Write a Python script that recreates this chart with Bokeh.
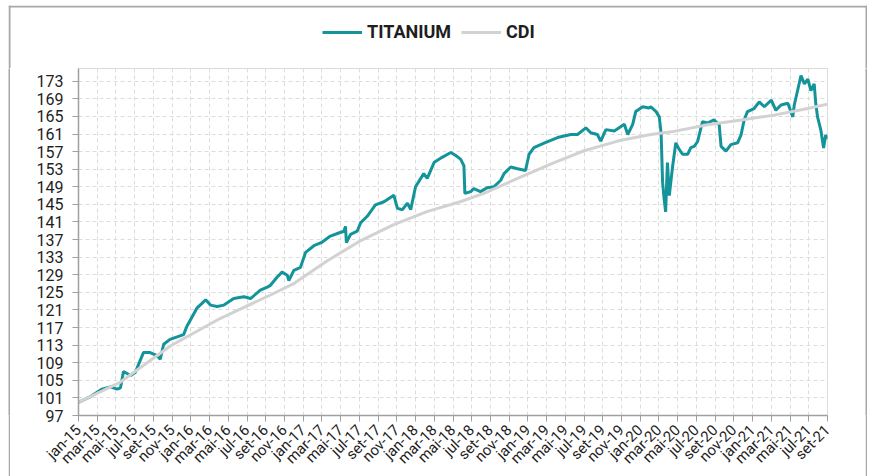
import pandas as pd
from bokeh.plotting import figure
from bokeh.layouts import column, row
from bokeh.models import (Range1d, FixedTicker, Legend, LegendItem, ColumnDataSource, Span)
from bokeh.embed import file_html
from bokeh.resources import INLINE

titanium_dates = [
    "2015-01-01", "2015-02-09", "2015-03-17", "2015-04-13", "2015-05-05", "2015-05-16", "2015-05-26",
    "2015-06-18", "2015-07-03", "2015-07-30", "2015-08-21", "2015-09-13", "2015-09-23", "2015-10-04",
    "2015-10-25", "2015-12-08", "2015-12-19", "2016-01-21", "2016-02-18", "2016-03-04", "2016-03-26",
    "2016-04-17", "2016-05-19", "2016-06-21", "2016-07-13", "2016-08-14", "2016-09-06", "2016-09-16",
    "2016-10-08", "2016-10-24", "2016-11-10", "2016-11-15", "2016-12-01", "2016-12-23", "2017-01-09",
    "2017-02-05", "2017-02-27", "2017-03-29", "2017-04-25", "2017-05-12", "2017-05-17", "2017-05-20",
    "2017-06-03", "2017-06-24", "2017-07-05", "2017-07-27", "2017-08-23", "2017-09-20", "2017-10-22",
    "2017-11-03", "2017-11-19", "2017-12-05", "2017-12-16", "2018-01-01", "2018-01-28", "2018-02-08",
    "2018-03-01", "2018-03-27", "2018-04-24", "2018-05-10", "2018-05-26", "2018-06-06", "2018-06-09",
    "2018-06-28", "2018-07-08", "2018-07-30", "2018-08-21", "2018-09-12", "2018-10-04", "2018-10-15",
    "2018-11-06", "2018-11-28", "2018-12-24", "2019-01-05", "2019-01-21", "2019-02-23", "2019-04-06",
    "2019-05-19", "2019-06-10", "2019-07-07", "2019-07-23", "2019-08-14", "2019-08-25", "2019-09-11",
    "2019-10-08", "2019-11-10", "2019-11-21", "2019-12-07", "2019-12-17", "2020-01-09", "2020-01-30",
    "2020-02-05", "2020-02-21", "2020-03-02", "2020-03-08", "2020-03-13", "2020-03-18", "2020-03-23",
    "2020-03-29", "2020-04-04", "2020-04-15", "2020-04-25", "2020-05-06", "2020-05-17", "2020-06-03",
    "2020-06-13", "2020-06-24", "2020-07-05", "2020-07-21", "2020-08-07", "2020-08-28", "2020-09-14",
    "2020-09-20", "2020-10-06", "2020-10-22", "2020-11-13", "2020-11-24", "2020-12-04", "2020-12-15",
    "2021-01-06", "2021-01-23", "2021-02-08", "2021-03-01", "2021-03-16", "2021-04-02", "2021-04-24",
    "2021-05-10", "2021-05-15", "2021-05-26", "2021-06-06", "2021-06-17", "2021-06-28", "2021-07-08",
    "2021-07-19", "2021-07-24", "2021-07-30", "2021-08-10", "2021-08-19", "2021-08-26", "2021-09-01",
]
titanium_values = [
    100.0, 101.3, 103.0, 103.5, 103.0, 103.3, 107.0,
    106.1, 106.8, 111.3, 111.3, 110.6, 109.8, 113.2,
    114.3, 115.4, 117.3, 121.4, 123.3, 122.1, 121.8,
    122.1, 123.6, 124.0, 123.6, 125.5, 126.2, 126.6,
    128.5, 129.6, 128.9, 127.7, 130.0, 130.7, 134.1,
    135.6, 136.3, 137.8, 138.5, 138.9, 140.0, 136.3,
    138.2, 138.9, 140.8, 142.3, 144.9, 145.6, 147.1,
    144.1, 143.8, 145.3, 143.8, 149.0, 152.0, 150.9,
    154.6, 155.7, 156.8, 156.1, 155.3, 153.8, 147.5,
    147.9, 148.6, 147.9, 148.8, 149.0, 150.5, 152.0,
    153.5, 153.1, 152.7, 156.4, 157.9, 159.0, 160.2,
    160.9, 160.9, 162.4, 161.3, 160.9, 159.4, 162.0,
    161.7, 163.2, 160.9, 163.2, 166.1, 167.2, 166.9,
    167.2, 166.1, 164.9, 161.2, 150.0, 146.3, 143.3,
    154.5, 147.0, 153.8, 159.0, 157.5, 156.4, 156.4,
    157.9, 158.2, 159.3, 163.8, 163.5, 164.2, 163.1,
    158.2, 157.1, 158.6, 159.0, 160.8, 164.2, 166.1,
    166.8, 168.3, 167.2, 168.7, 166.4, 167.6, 168.0,
    164.9, 167.6, 170.9, 174.3, 172.4, 173.5, 170.9,
    172.4, 168.0, 164.9, 161.9, 157.8, 160.8, 159.9,
]

cdi_dates = [
    "2015-01-01", "2015-05-16", "2015-10-26", "2016-04-06", "2016-09-16", "2016-12-01",
    "2017-03-19", "2017-07-04", "2017-10-22", "2018-02-09", "2018-05-25", "2018-08-10",
    "2018-11-28", "2019-03-16", "2019-07-01", "2019-10-19", "2020-02-04", "2020-04-19",
    "2020-08-07", "2020-11-25", "2021-03-10", "2021-06-28", "2021-09-01",
]
cdi_values = [
    100.0, 104.6, 112.8, 119.1, 124.4, 127.0,
    132.2, 136.7, 140.4, 143.4, 145.6, 147.5,
    150.9, 154.2, 157.2, 159.4, 160.9, 161.6,
    163.1, 164.2, 165.3, 166.8, 167.8,
]

month_names = ["jan", "fev", "mar", "abr", "mai", "jun", "jul", "ago", "set", "out", "nov", "dez"]
y_ticks = [97, 101, 105, 109, 113, 117, 121, 125, 129, 133, 137, 141, 145, 149, 153, 157, 161, 165, 169, 173]


def month_index(dates):
    d = pd.to_datetime(pd.Series(dates))
    return list((d.dt.year - 2015) * 12 + (d.dt.month - 1) + (d.dt.day - 1) / d.dt.days_in_month)


tick_pos = list(range(0, 81, 2))
tick_labels = {m: f"{month_names[m % 12]}-{15 + m // 12}" for m in tick_pos}

FONT = "Roboto"
TEAL = "#13939a"
GREY = "#d2d2d2"
BORDER = "#a8a8a8"
LW = 3

PAD_TOP = 5      # blank space above the outer frame
PAD_LEFT = 8     # blank space left of the outer frame
W = 859          # outer frame width
HEAD_H = 63      # legend strip height
MAIN_H = 408     # chart height
STRIP_W = 2      # side border strips


def blank(w, h, color="white"):
    b = figure(width=w, height=h, output_backend="svg", toolbar_location=None,
               x_axis_type=None, y_axis_type=None, min_border=0, outline_line_color=None,
               background_fill_color=color, border_fill_color=color)
    b.grid.visible = False
    return b


# ---- header with legend and the top part of the outer frame ----
head = figure(width=W, height=HEAD_H, output_backend="svg", toolbar_location=None,
              x_range=Range1d(0, W), y_range=Range1d(0, HEAD_H),
              x_axis_type=None, y_axis_type=None, min_border=0,
              outline_line_color=None, background_fill_color="white", border_fill_color="white")
head.grid.visible = False
key_src = ColumnDataSource(dict(x=[0], y=[-50]))
h_t = head.line("x", "y", source=key_src, line_color=TEAL, line_width=LW)
h_c = head.line("x", "y", source=key_src, line_color=GREY, line_width=LW)
head.add_layout(Span(location=HEAD_H - 1, dimension="width", line_color=BORDER, line_width=2))
head.add_layout(Span(location=1, dimension="height", line_color=BORDER, line_width=2))
head.add_layout(Span(location=W - 1, dimension="height", line_color=BORDER, line_width=2))
legend = Legend(items=[LegendItem(label="TITANIUM", renderers=[h_t]),
                       LegendItem(label="CDI", renderers=[h_c])],
                orientation="horizontal", location=(314, 26),
                glyph_width=40, glyph_height=20, label_height=20,
                label_standoff=5, spacing=10, padding=0, margin=0,
                border_line_color=None, background_fill_alpha=0,
                label_text_font=FONT, label_text_font_style="bold",
                label_text_font_size="18px", label_text_color="#1e1e1e")
head.add_layout(legend, "center")

# ---- main chart ----
p = figure(width=W - 2 * STRIP_W, height=MAIN_H, output_backend="svg", toolbar_location=None,
           x_range=Range1d(0, 80), y_range=Range1d(97, 175.9),
           min_border_left=68, min_border_right=38, min_border_top=0, min_border_bottom=55,
           background_fill_color="white", border_fill_color="white")

src_t = ColumnDataSource(dict(x=month_index(titanium_dates), y=titanium_values))
src_c = ColumnDataSource(dict(x=month_index(cdi_dates), y=cdi_values))
p.line("x", "y", source=src_t, line_color=TEAL, line_width=LW)
p.line("x", "y", source=src_c, line_color=GREY, line_width=LW)

p.outline_line_color = "#dcdcdc"

for ax in (p.xaxis[0], p.yaxis[0]):
    ax.axis_line_color = "#a0a0a0"
    ax.axis_line_width = 1.5
    ax.major_tick_line_color = "#a0a0a0"
    ax.major_tick_out = 6
    ax.major_tick_in = 0
    ax.minor_tick_line_color = None
    ax.major_label_text_font = FONT
    ax.major_label_text_color = "#1e1e1e"

p.yaxis.ticker = FixedTicker(ticks=y_ticks)
p.yaxis.major_label_text_font_size = "16px"
p.yaxis.major_label_standoff = 9

p.xaxis.ticker = FixedTicker(ticks=tick_pos)
p.xaxis.major_label_overrides = tick_labels
p.xaxis.major_label_orientation = 0.785398
p.xaxis.major_label_text_font_size = "15px"
p.xaxis.major_label_standoff = 6

p.xgrid.grid_line_color = "#dcdcdc"
p.ygrid.grid_line_color = "#dcdcdc"
p.xgrid.grid_line_dash = "4 3"
p.ygrid.grid_line_dash = "4 3"
p.xgrid.ticker = FixedTicker(ticks=tick_pos)
p.ygrid.ticker = FixedTicker(ticks=y_ticks)

framed = column(head, row(blank(STRIP_W, MAIN_H, BORDER), p, blank(STRIP_W, MAIN_H, BORDER), spacing=0),
                spacing=0)
layout = column(blank(PAD_LEFT + W, PAD_TOP),
                row(blank(PAD_LEFT, HEAD_H + MAIN_H), framed, spacing=0),
                spacing=0)

open("out.html", "w").write(file_html(layout, INLINE))
